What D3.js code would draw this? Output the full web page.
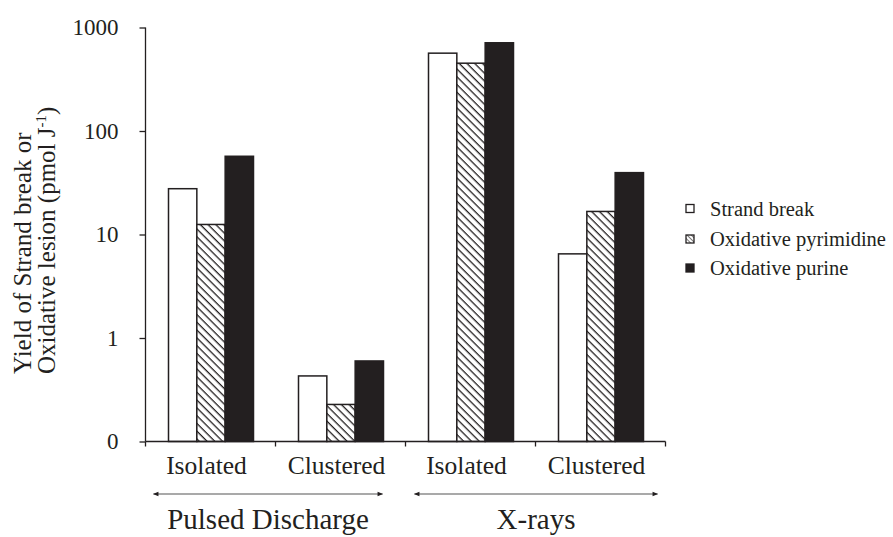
<!DOCTYPE html>
<html>
<head>
<meta charset="utf-8">
<script src="https://cdn.jsdelivr.net/npm/d3@7"></script>
</head>
<body style="margin:0">
<svg id="fig" width="893" height="537"></svg>
<script>
// Yields (pmol J^-1) for each damage type, per source and damage class
const categories = ["PD-Isolated", "PD-Clustered", "XR-Isolated", "XR-Clustered"];
const categoryLabels = ["Isolated", "Clustered", "Isolated", "Clustered"];
const seriesNames = ["Strand break", "Oxidative pyrimidine", "Oxidative purine"];
const strandBreak = [27.7, 0.43, 565, 6.5];
const oxPyrimidine = [12.5, 0.228, 452, 16.7];
const oxPurine = [57, 0.6, 712, 39.6];
const yTickValues = [0.1, 1, 10, 100, 1000];
const yTickLabels = ["0", "1", "10", "100", "1000"];
const groups = [
  { name: "Pulsed Discharge", from: 0, to: 1, inset: [8, 23] },
  { name: "X-rays", from: 2, to: 3, inset: [9, 8] }
];

const series = [strandBreak, oxPyrimidine, oxPurine];
const ink = "#231f20";
const fontStack = '"Times New Roman", "Liberation Serif", Tinos, serif';

const svg = d3.select("#fig");

function serifText(sel) {
  return sel.style("font-family", fontStack);
}

// hatching for the pyrimidine bars
const defs = svg.append("defs");
const pat = defs.append("pattern")
  .attr("id", "hatch")
  .attr("patternUnits", "userSpaceOnUse")
  .attr("width", 5.5).attr("height", 5.5)
  .attr("patternTransform", "rotate(45)");
pat.append("rect").attr("width", 5.5).attr("height", 5.5).attr("fill", "#fff");
pat.append("line")
  .attr("x1", 0).attr("y1", 0).attr("x2", 5.5).attr("y2", 0)
  .attr("stroke", ink).attr("stroke-width", 2.6);

const legendPat = defs.append("pattern")
  .attr("id", "hatchSmall")
  .attr("patternUnits", "userSpaceOnUse")
  .attr("width", 3).attr("height", 3)
  .attr("patternTransform", "rotate(45)");
legendPat.append("rect").attr("width", 3).attr("height", 3).attr("fill", "#fff");
legendPat.append("line")
  .attr("x1", 0).attr("y1", 0).attr("x2", 3).attr("y2", 0)
  .attr("stroke", ink).attr("stroke-width", 1.2);

const fills = ["#fff", "url(#hatch)", ink];
const legendFills = ["#fff", "url(#hatchSmall)", ink];

const x0 = d3.scaleBand().domain(categories).range([145.5, 665.5]).padding(0);
const x1 = d3.scaleBand().domain(seriesNames).range([23, 108]).padding(0);
const y = d3.scaleLog().domain([0.1, 1000]).range([441.5, 27.5]);

// bars
const g = svg.append("g");
categories.forEach((c, ci) => {
  seriesNames.forEach((s, si) => {
    const v = series[si][ci];
    g.append("rect")
      .attr("x", x0(c) + x1(s))
      .attr("y", y(v))
      .attr("width", x1.bandwidth())
      .attr("height", y(0.1) - y(v))
      .attr("fill", fills[si])
      .attr("stroke", ink)
      .attr("stroke-width", 1.5);
  });
});

// y axis
const yAxis = d3.axisLeft(y)
  .tickValues(yTickValues)
  .tickFormat((d, i) => yTickLabels[i])
  .tickSize(6)
  .tickPadding(21);
const ya = svg.append("g").attr("transform", "translate(145.5,0)").call(yAxis);
ya.attr("font-family", null).attr("font-size", null);
ya.select(".domain").attr("stroke", ink).attr("stroke-width", 1.3).attr("d", "M0,27.5V441.5");
ya.selectAll(".tick line").attr("stroke", ink).attr("stroke-width", 1.3);
serifText(ya.selectAll(".tick text"))
  .attr("font-size", 23).attr("fill", ink);

// x axis with boundary ticks between categories
const xa = svg.append("g").attr("transform", "translate(0,441.5)");
xa.append("line")
  .attr("x1", 145.5).attr("x2", x0.range()[1])
  .attr("stroke", ink).attr("stroke-width", 1.3);
const bounds = categories.map(c => x0(c)).concat([x0.range()[1]]);
xa.selectAll("line.tk").data(bounds).join("line")
  .attr("class", "tk")
  .attr("x1", d => d).attr("x2", d => d)
  .attr("y1", 0).attr("y2", 5)
  .attr("stroke", ink).attr("stroke-width", 1.3);
serifText(xa.selectAll("text.cat").data(categories).join("text"))
  .attr("class", "cat")
  .attr("x", d => x0(d) + x0.bandwidth() / 2 - 4)
  .attr("y", 32)
  .attr("text-anchor", "middle")
  .attr("font-size", 25.5)
  .attr("fill", ink)
  .text((d, i) => categoryLabels[i]);

// double-headed arrows and group names under the categories
const arrowY = 494;
defs.append("marker")
  .attr("id", "arrowhead")
  .attr("viewBox", "0 0 10 10")
  .attr("refX", 9).attr("refY", 5)
  .attr("markerWidth", 7).attr("markerHeight", 5)
  .attr("orient", "auto-start-reverse")
  .append("path").attr("d", "M0,1L10,5L0,9Z").attr("fill", ink);

groups.forEach((grp) => {
  const left = x0(categories[grp.from]) + grp.inset[0];
  const right = x0(categories[grp.to]) + x0.bandwidth() - grp.inset[1];
  svg.append("line")
    .attr("x1", left).attr("x2", right)
    .attr("y1", arrowY).attr("y2", arrowY)
    .attr("stroke", "#555").attr("stroke-width", 1.1)
    .attr("marker-start", "url(#arrowhead)")
    .attr("marker-end", "url(#arrowhead)");
  serifText(svg.append("text"))
    .attr("x", (left + right) / 2)
    .attr("y", 529)
    .attr("text-anchor", "middle")
    .attr("font-size", 29)
    .attr("fill", ink)
    .text(grp.name);
});

// y axis title, two lines starting from the same point
const yt = serifText(svg.append("text"))
  .attr("transform", "translate(0,374) rotate(-90)")
  .attr("text-anchor", "start")
  .attr("font-size", 25)
  .attr("fill", ink);
yt.append("tspan").attr("x", 0).attr("y", 31).text("Yield of Strand break or");
const l2 = yt.append("tspan").attr("x", 0).attr("y", 55);
l2.append("tspan").text("Oxidative lesion (pmol J");
l2.append("tspan").attr("dy", -9).attr("font-size", 15).text("-1");
l2.append("tspan").attr("dy", 9).text(")");

// legend
const legend = svg.append("g").attr("transform", "translate(686,0)");
const legendY = [208.5, 239, 268];
seriesNames.forEach((s, i) => {
  legend.append("rect")
    .attr("x", 0).attr("y", legendY[i] - 4)
    .attr("width", 8).attr("height", 8)
    .attr("fill", legendFills[i])
    .attr("stroke", ink).attr("stroke-width", 1.3);
  serifText(legend.append("text"))
    .attr("x", 24).attr("y", legendY[i] + 7)
    .attr("font-size", 20.5)
    .attr("fill", ink)
    .text(s);
});
</script>
</body>
</html>
